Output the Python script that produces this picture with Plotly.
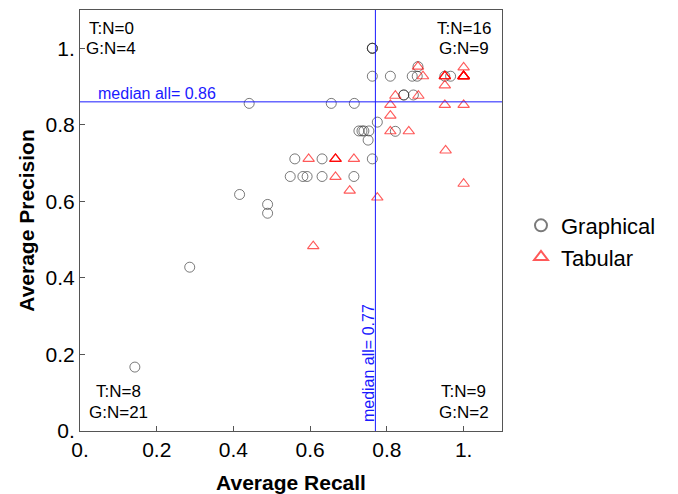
import plotly.graph_objects as go

# Average recall / precision per participant, split by presentation format
graphical_recall = [0.762, 0.762, 0.762, 0.762,
                    0.809, 0.866, 0.879, 0.881, 0.951, 0.966, 0.844, 0.844, 0.869,
                    0.655, 0.715, 0.441,
                    0.775,
                    0.727, 0.735, 0.740, 0.753,
                    0.822,
                    0.751,
                    0.560, 0.631, 0.762,
                    0.548, 0.581, 0.592, 0.631, 0.714,
                    0.416, 0.489, 0.489, 0.286, 0.143]
graphical_precision = [1.0, 1.0, 1.0, 0.927,
                       0.927, 0.927, 0.927, 0.952, 0.927, 0.927, 0.878, 0.878, 0.878,
                       0.856, 0.856, 0.856,
                       0.807,
                       0.784, 0.784, 0.784, 0.784,
                       0.783,
                       0.760,
                       0.711, 0.711, 0.711,
                       0.665, 0.665, 0.665, 0.665, 0.665,
                       0.618, 0.592, 0.569, 0.428, 0.167]

tabular_recall = [0.894, 0.951, 0.951, 0.951, 1.0,
                  1.0, 1.0, 1.0, 1.0, 1.0, 1.0, 1.0,
                  0.951, 0.881, 0.822, 0.882,
                  0.809, 0.951, 1.0, 0.809, 0.809, 0.857, 0.953, 1.0, 0.775,
                  0.703, 0.596, 0.666, 0.666, 0.666, 0.714, 0.666, 0.608]
tabular_precision = [0.927, 0.927, 0.927, 0.927, 0.950,
                     0.927, 0.927, 0.927, 0.927, 0.927, 0.927, 0.927,
                     0.903, 0.952, 0.876, 0.876,
                     0.852, 0.852, 0.852, 0.824, 0.783, 0.783, 0.733, 0.646, 0.610,
                     0.628, 0.711, 0.711, 0.711, 0.711, 0.711, 0.664, 0.483]

median_recall = 0.77
median_precision = 0.86

tick_values = [0, 0.2, 0.4, 0.6, 0.8, 1.0]
tick_labels = ["0.", "0.2", "0.4", "0.6", "0.8", "1."]

FONT = "Liberation Sans, Arial, sans-serif"
BLUE = "#1a1aff"


def quadrant_counts(xs, ys):
    tl = sum(1 for x, y in zip(xs, ys) if x < median_recall and y > median_precision)
    tr = sum(1 for x, y in zip(xs, ys) if x > median_recall and y > median_precision)
    bl = sum(1 for x, y in zip(xs, ys) if x < median_recall and y < median_precision)
    br = sum(1 for x, y in zip(xs, ys) if x > median_recall and y < median_precision)
    return tl, tr, bl, br


g_counts = quadrant_counts(graphical_recall, graphical_precision)
t_counts = quadrant_counts(tabular_recall, tabular_precision)

fig = go.Figure()

fig.add_trace(go.Scatter(
    x=graphical_recall, y=graphical_precision, mode="markers", name="Graphical",
    marker=dict(symbol="circle-open", size=10, color="rgba(50,50,50,0.65)",
                line=dict(width=1.0, color="rgba(50,50,50,0.65)")),
))
fig.add_trace(go.Scatter(
    x=tabular_recall, y=tabular_precision, mode="markers", name="Tabular",
    marker=dict(symbol="triangle-up-open", size=10, color="rgba(255,0,0,0.65)",
                line=dict(width=1.1, color="rgba(255,0,0,0.65)")),
))

# Median reference lines
fig.add_shape(type="line", xref="x", yref="y", x0=0, x1=1.1,
              y0=median_precision, y1=median_precision,
              line=dict(color=BLUE, width=1))
fig.add_shape(type="line", xref="x", yref="y", x0=median_recall, x1=median_recall,
              y0=0, y1=1.1, line=dict(color=BLUE, width=1))

annotations = [
    dict(text=f"median all= {median_precision:.2f}", xref="paper", yref="paper",
         x=0.038, y=0.802, xanchor="left", yanchor="middle", showarrow=False,
         font=dict(family=FONT, size=16, color=BLUE)),
    dict(text=f"median all= {median_recall:.2f}", xref="paper", yref="paper",
         x=0.682, y=0.016, xanchor="center", yanchor="bottom", textangle=-90,
         showarrow=False, font=dict(family=FONT, size=16, color=BLUE)),
]

quad_pos = [
    (0.0735, 0.957, 0.909),  # top-left
    (0.909, 0.957, 0.909),   # top-right
    (0.091, 0.0945, 0.043),  # bottom-left
    (0.909, 0.0945, 0.043),  # bottom-right
]
for (qx, ty, gy), tn, gn in zip(quad_pos, t_counts, g_counts):
    annotations.append(dict(text=f"T:N={tn}", xref="paper", yref="paper", x=qx, y=ty,
                            xanchor="center", yanchor="middle", showarrow=False,
                            font=dict(family=FONT, size=17, color="black")))
    annotations.append(dict(text=f"G:N={gn}", xref="paper", yref="paper", x=qx, y=gy,
                            xanchor="center", yanchor="middle", showarrow=False,
                            font=dict(family=FONT, size=17, color="black")))

axis_common = dict(
    range=[0, 1.1], tickvals=tick_values, ticktext=tick_labels,
    ticks="inside", ticklen=5, tickwidth=1, tickcolor="#555",
    showline=True, linecolor="#555", linewidth=1, mirror=True,
    showgrid=False, zeroline=False, automargin=False,
    tickfont=dict(family=FONT, size=21, color="black"),
)

fig.update_layout(
    width=678, height=494,
    margin=dict(l=80, r=176, t=10, b=63),
    paper_bgcolor="white", plot_bgcolor="white",
    xaxis=dict(**axis_common,
               title=dict(text="<b>Average Recall</b>", standoff=16,
                          font=dict(family=FONT, size=21, color="black"))),
    yaxis=dict(**axis_common,
               title=dict(text="<b>Average Precision</b>", standoff=5,
                          font=dict(family=FONT, size=21, color="black"))),
    legend=dict(x=1.045, y=0.45, xanchor="left", yanchor="middle",
                font=dict(family=FONT, size=22, color="black"),
                bgcolor="rgba(0,0,0,0)", tracegroupgap=0, itemsizing="constant"),
    annotations=annotations,
    showlegend=True,
)

fig.write_html("out.html")
